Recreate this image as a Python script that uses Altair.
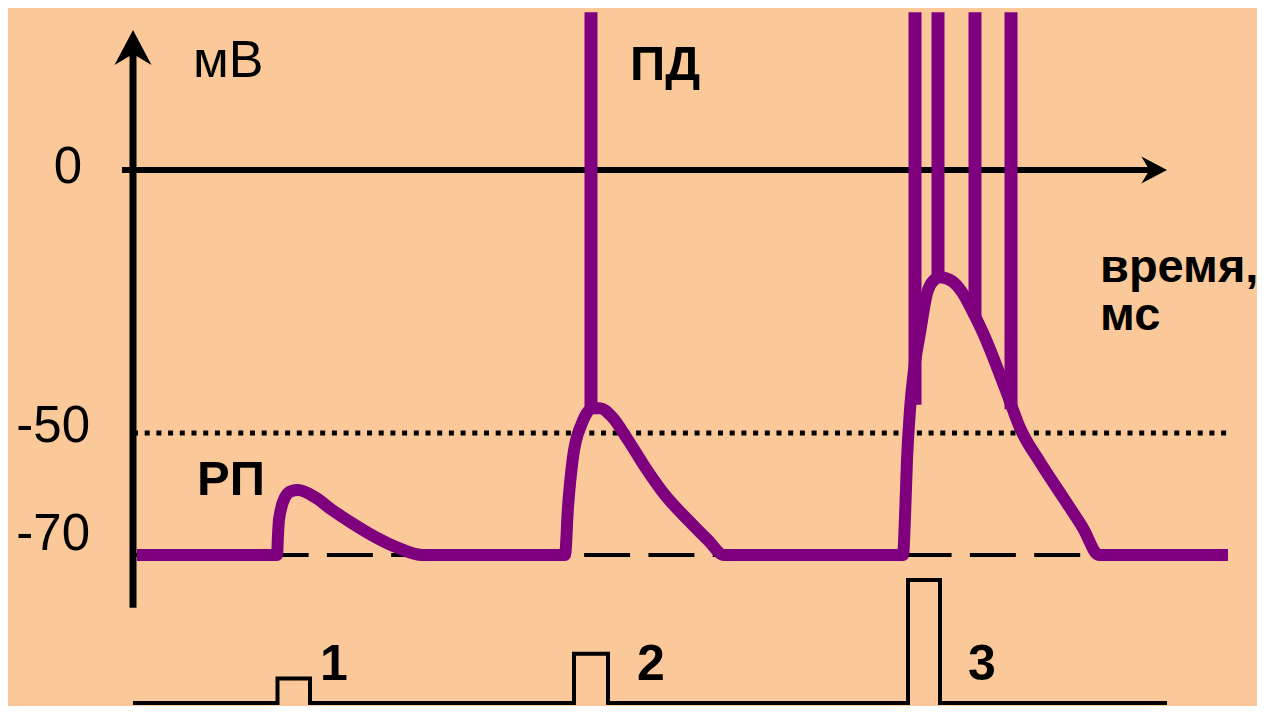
import altair as alt
import pandas as pd

# ---------------- data (time in ms, membrane potential in mV) ----------------
trace_t = [0.4, 14.4, 14.5, 14.6, 15.2, 15.8, 16.5, 18.2, 19.9, 21.9, 24.2, 26.5, 28.9,
           43.2, 43.5, 44.0, 44.9, 46.0, 46.7, 47.9, 49.5, 51.2, 53.2, 55.7, 57.5, 59.1,
           77.0, 77.2, 77.4, 77.7, 78.1, 78.7, 79.4, 80.0, 80.7, 81.9, 82.9, 83.9, 85.0,
           86.2, 87.5, 88.7, 90.7, 93.0, 95.0, 96.6, 109.5]
trace_mv = [-70, -70, -66.4, -63.6, -59.5, -58.4, -58.2, -59.5, -61.8, -64.2, -66.7, -68.7, -70,
            -70, -61.3, -52.2, -46.0, -43.3, -43.3, -44.9, -49.1, -54.0, -59.1, -64.0, -67.3, -70,
            -70, -63.1, -52.7, -43.6, -36.4, -29.6, -22.4, -20.2, -19.5, -20.2, -22.2, -25.5, -29.6,
           -34.9, -41.1, -46.9, -53.1, -59.5, -65.1, -70, -70]

spike_t = [45.8, 78.2, 80.5, 84.2, 87.8]
spike_base = [-43.3, -42.7, -19.5, -26.7, -43.5]
spike_top = [28.7, 28.7, 28.7, 28.7, 28.7]

rest_mv = -70
threshold_mv = -47.8

stim_t = [0, 14.45, 14.45, 17.7, 17.7, 44.1, 44.1, 47.5, 47.5, 77.5, 77.5, 80.7, 80.7, 103.4]
stim_amp = [0, 0, 1, 1, 0, 0, 2, 2, 0, 0, 5, 5, 0, 0]

tick_labels = ["0", "-50", "-70"]
tick_label_mv = [-2.4, -49.5, -69.1]
tick_label_t = [-5.1, -4.3, -4.3]

bold_labels = ["ПД", "РП"]
bold_t = [49.7, 6.4]
bold_mv = [16.4, -59.1]

xlabel_lines = ["время,", "мс"]
xlabel_t = [96.7, 96.7]
xlabel_mv = [-20.4, -29.1]

stim_labels = ["1", "2", "3"]
stim_label_t = [18.7, 50.4, 83.5]
stim_label_amp = [0.935, 0.935, 0.935]

# ---------------- layout ----------------
W, H = 1249, 698
PX_PER_MS = 10.0
PX_PER_MV = 5.5
PX_PER_STIM = 24.6
T_MIN = -12.5
T_MAX = T_MIN + W / PX_PER_MS
MV_TOP = 162 / PX_PER_MV
MV_BOT = MV_TOP - H / PX_PER_MV
ST_TOP = 695 / PX_PER_STIM
ST_BOT = ST_TOP - H / PX_PER_STIM

BG = "#FBC999"
PURPLE = "#7F007F"
FONT = "Liberation Sans, Arial"

xs = alt.Scale(domain=[T_MIN, T_MAX], nice=False, zero=False)
ys = alt.Scale(domain=[MV_BOT, MV_TOP], nice=False, zero=False)
ss = alt.Scale(domain=[ST_BOT, ST_TOP], nice=False, zero=False)


def X(f="t"):
    return alt.X(f"{f}:Q", scale=xs, axis=None)


def Y(f="mv"):
    return alt.Y(f"{f}:Q", scale=ys, axis=None)


trace_df = pd.DataFrame({"t": trace_t, "mv": trace_mv})
spike_df = pd.DataFrame({"t": spike_t, "mv": spike_base, "top": spike_top})
stim_df = pd.DataFrame({"t": stim_t, "amp": stim_amp, "i": list(range(len(stim_t)))})

# axes
yaxis = alt.Chart(pd.DataFrame({"t": [0], "mv": [-79.6], "mv2": [21.8]})).mark_rule(
    color="black", strokeWidth=7, strokeCap="butt").encode(
    x=X(), y=Y(), y2="mv2:Q")
xaxis = alt.Chart(pd.DataFrame({"t": [-1.1], "t2": [101.7], "mv": [0]})).mark_rule(
    color="black", strokeWidth=6, strokeCap="butt").encode(
    x=X(), x2="t2:Q", y=Y())
arrow_path = "M0,-1 L1,0.9 L0,0.3 L-1,0.9 Z"
yarrow = alt.Chart(pd.DataFrame({"t": [0], "mv": [22.1]})).mark_point(
    shape=arrow_path, filled=True, fill="black", strokeWidth=0, size=1369, opacity=1).encode(
    x=X(), y=Y())
xarrow = alt.Chart(pd.DataFrame({"t": [102.05], "mv": [0]})).mark_point(
    shape=arrow_path, filled=True, fill="black", strokeWidth=0, size=729, angle=90, opacity=1).encode(
    x=X(), y=Y())

# reference lines
thr = alt.Chart(pd.DataFrame({"t": [0], "t2": [109.5], "mv": [threshold_mv]})).mark_rule(
    color="black", strokeWidth=5, strokeDash=[5, 6.7], strokeCap="butt").encode(
    x=X(), x2="t2:Q", y=Y())
rest = alt.Chart(pd.DataFrame({"t": [0.1], "t2": [103], "mv": [rest_mv]})).mark_rule(
    color="black", strokeWidth=4, strokeDash=[46, 18.3], strokeCap="butt").encode(
    x=X(), x2="t2:Q", y=Y())

# membrane potential trace
trace = alt.Chart(trace_df).mark_line(
    color=PURPLE, strokeWidth=12, interpolate="monotone", strokeCap="butt").encode(
    x=X(), y=Y())
spikes = alt.Chart(spike_df).mark_rule(
    color=PURPLE, strokeWidth=13, strokeCap="butt").encode(
    x=X(), y=Y(), y2="top:Q")

# stimulus trace
stim = alt.Chart(stim_df).mark_line(color="black", strokeWidth=4, strokeJoin="miter").encode(
    x=X(), y=alt.Y("amp:Q", scale=ss, axis=None), order="i:Q")
stim_text = alt.Chart(pd.DataFrame({"t": stim_label_t, "amp": stim_label_amp, "s": stim_labels})).mark_text(
    font=FONT, fontSize=50, fontWeight="bold", align="left", baseline="alphabetic", color="black").encode(
    x=X(), y=alt.Y("amp:Q", scale=ss, axis=None), text="s:N")

# labels
ticks = alt.Chart(pd.DataFrame({"t": tick_label_t, "mv": tick_label_mv, "s": tick_labels})).mark_text(
    font=FONT, fontSize=51, align="right", baseline="alphabetic", color="black").encode(
    x=X(), y=Y(), text="s:N")
unit = alt.Chart(pd.DataFrame({"t": [6.0], "mv": [16.9], "s": ["мВ"]})).mark_text(
    font=FONT, fontSize=52, align="left", baseline="alphabetic", color="black").encode(
    x=X(), y=Y(), text="s:N")
bold = alt.Chart(pd.DataFrame({"t": bold_t, "mv": bold_mv, "s": bold_labels})).mark_text(
    font=FONT, fontSize=49, fontWeight="bold", align="left", baseline="alphabetic", color="black").encode(
    x=X(), y=Y(), text="s:N")
xlabel = alt.Chart(pd.DataFrame({"t": xlabel_t, "mv": xlabel_mv, "s": xlabel_lines})).mark_text(
    font=FONT, fontSize=47, fontWeight="bold", align="left", baseline="alphabetic", color="black").encode(
    x=X(), y=Y(), text="s:N")

chart = alt.layer(
    thr, rest, yaxis, xaxis, yarrow, xarrow, trace, spikes, stim, stim_text, ticks, unit, bold, xlabel
).resolve_scale(y="independent").properties(
    width=W, height=H, background=BG, padding=0,
    autosize=alt.AutoSizeParams(type="none")
).configure_view(stroke=None)

chart.save("out.html", embed_options={"renderer": "svg", "actions": False})
